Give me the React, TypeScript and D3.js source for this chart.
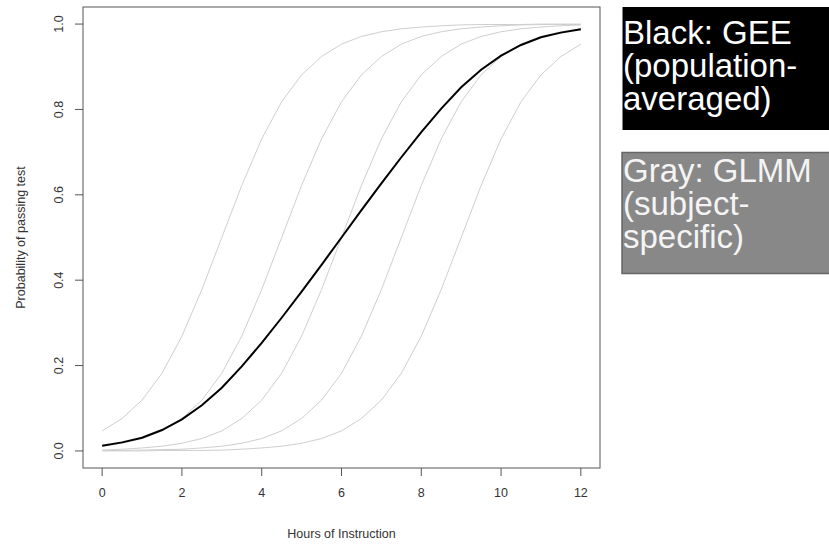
import { useMemo } from "react";
import * as d3 from "d3";

const WIDTH = 829;
const HEIGHT = 544;
// plot region (R style box with 4% padding around the data range)
const MARGIN = { top: 7, right: 229, bottom: 76, left: 83 };

// hours of instruction, half-hour steps
const hours = [
  0, 0.5, 1, 1.5, 2, 2.5, 3, 3.5, 4, 4.5, 5, 5.5, 6, 6.5, 7, 7.5, 8, 8.5, 9, 9.5, 10, 10.5, 11, 11.5, 12,
];

// gray: subject-specific curves (GLMM)
const subjectA = [
  0.047, 0.076, 0.119, 0.182, 0.269, 0.378, 0.5, 0.622, 0.731, 0.818, 0.881, 0.924, 0.953, 0.971, 0.982,
  0.989, 0.993, 0.996, 0.998, 0.999, 0.999, 0.999, 1.0, 1.0, 1.0,
];
const subjectB = [
  0.011, 0.018, 0.029, 0.047, 0.076, 0.119, 0.182, 0.269, 0.378, 0.5, 0.622, 0.731, 0.818, 0.881, 0.924,
  0.953, 0.971, 0.982, 0.989, 0.993, 0.996, 0.998, 0.999, 0.999, 0.999,
];
const subjectC = [
  0.002, 0.004, 0.007, 0.011, 0.018, 0.029, 0.047, 0.076, 0.119, 0.182, 0.269, 0.378, 0.5, 0.622, 0.731,
  0.818, 0.881, 0.924, 0.953, 0.971, 0.982, 0.989, 0.993, 0.996, 0.998,
];
const subjectD = [
  0.001, 0.001, 0.002, 0.003, 0.004, 0.007, 0.011, 0.018, 0.029, 0.047, 0.076, 0.119, 0.182, 0.269, 0.378,
  0.5, 0.622, 0.731, 0.818, 0.881, 0.924, 0.953, 0.971, 0.982, 0.989,
];
const subjectE = [
  0.0, 0.0, 0.0, 0.001, 0.001, 0.001, 0.002, 0.004, 0.007, 0.011, 0.018, 0.029, 0.047, 0.076, 0.119,
  0.182, 0.269, 0.378, 0.5, 0.622, 0.731, 0.818, 0.881, 0.924, 0.953,
];

// black: population-averaged curve (GEE)
const populationAvg = [
  0.012, 0.02, 0.031, 0.049, 0.074, 0.107, 0.148, 0.198, 0.253, 0.312, 0.373, 0.436, 0.5, 0.564, 0.627,
  0.688, 0.747, 0.802, 0.852, 0.893, 0.926, 0.951, 0.969, 0.98, 0.988,
];

const xTicks = [0, 2, 4, 6, 8, 10, 12];
const yTicks = [0, 0.2, 0.4, 0.6, 0.8, 1.0];

const legendBlack = ["Black: GEE", "(population-", "averaged)"];
const legendGray = ["Gray: GLMM", "(subject-", "specific)"];

const FONT = "'Liberation Sans', Arial, Helvetica, sans-serif";

export default function App() {
  const boundsWidth = WIDTH - MARGIN.left - MARGIN.right;
  const boundsHeight = HEIGHT - MARGIN.top - MARGIN.bottom;

  const xScale = useMemo(
    () => d3.scaleLinear().domain([-0.48, 12.48]).range([0, boundsWidth]),
    [boundsWidth]
  );
  const yScale = useMemo(
    () => d3.scaleLinear().domain([-0.04, 1.04]).range([boundsHeight, 0]),
    [boundsHeight]
  );

  const line = d3
    .line<number>()
    .x((_, i) => xScale(hours[i]))
    .y((d) => yScale(d));

  const grayCurves = [subjectA, subjectB, subjectC, subjectD, subjectE];

  return (
    <div style={{ position: "absolute", left: 0, top: 0 }}>
      <svg width={WIDTH} height={HEIGHT} style={{ display: "block", background: "white" }}>
        <g transform={`translate(${MARGIN.left},${MARGIN.top})`}>
          {grayCurves.map((vals, i) => (
            <path key={i} d={line(vals) || ""} fill="none" stroke="#cfcfcf" strokeWidth={1} />
          ))}
          <path d={line(populationAvg) || ""} fill="none" stroke="#000" strokeWidth={2} />

          <rect x={0} y={0} width={boundsWidth} height={boundsHeight} fill="none" stroke="#555" strokeWidth={1} />

          {/* x axis */}
          <line
            x1={xScale(0)}
            x2={xScale(12)}
            y1={boundsHeight + 8}
            y2={boundsHeight + 8}
            stroke="none"
          />
          {xTicks.map((t) => (
            <g key={t} transform={`translate(${xScale(t)},${boundsHeight})`}>
              <line y1={0} y2={8} stroke="#555" />
              <text y={29} textAnchor="middle" fontSize={12.5} fontFamily={FONT} fill="#333">
                {t}
              </text>
            </g>
          ))}
          <text
            x={(xScale(0) + xScale(12)) / 2}
            y={boundsHeight + 70}
            textAnchor="middle"
            fontSize={12.5}
            fontFamily={FONT}
            fill="#333"
          >
            Hours of Instruction
          </text>

          {/* y axis */}
          {yTicks.map((t) => (
            <g key={t} transform={`translate(0,${yScale(t)})`}>
              <line x1={0} x2={-8} stroke="#555" />
              <text
                transform="translate(-20,0) rotate(-90)"
                textAnchor="middle"
                fontSize={12.5}
                fontFamily={FONT}
                fill="#333"
              >
                {t.toFixed(1)}
              </text>
            </g>
          ))}
          <text
            transform={`translate(-58,${(yScale(0) + yScale(1)) / 2}) rotate(-90)`}
            textAnchor="middle"
            fontSize={12.5}
            fontFamily={FONT}
            fill="#333"
          >
            Probability of passing test
          </text>
        </g>

        {/* legend boxes */}
        <rect x={622.5} y={7} width={210} height={123} fill="#000" />
        {legendBlack.map((s, i) => (
          <text key={s} x={623} y={44 + i * 33} fontSize={33} fontFamily={FONT} fill="#fff">
            {s}
          </text>
        ))}
        <rect x={622} y={152.5} width={210} height={121} fill="#888" stroke="#666" strokeWidth={1.5} />
        {legendGray.map((s, i) => (
          <text key={s} x={623} y={182 + i * 33} fontSize={33} fontFamily={FONT} fill="#f4f4f4">
            {s}
          </text>
        ))}
      </svg>
    </div>
  );
}
